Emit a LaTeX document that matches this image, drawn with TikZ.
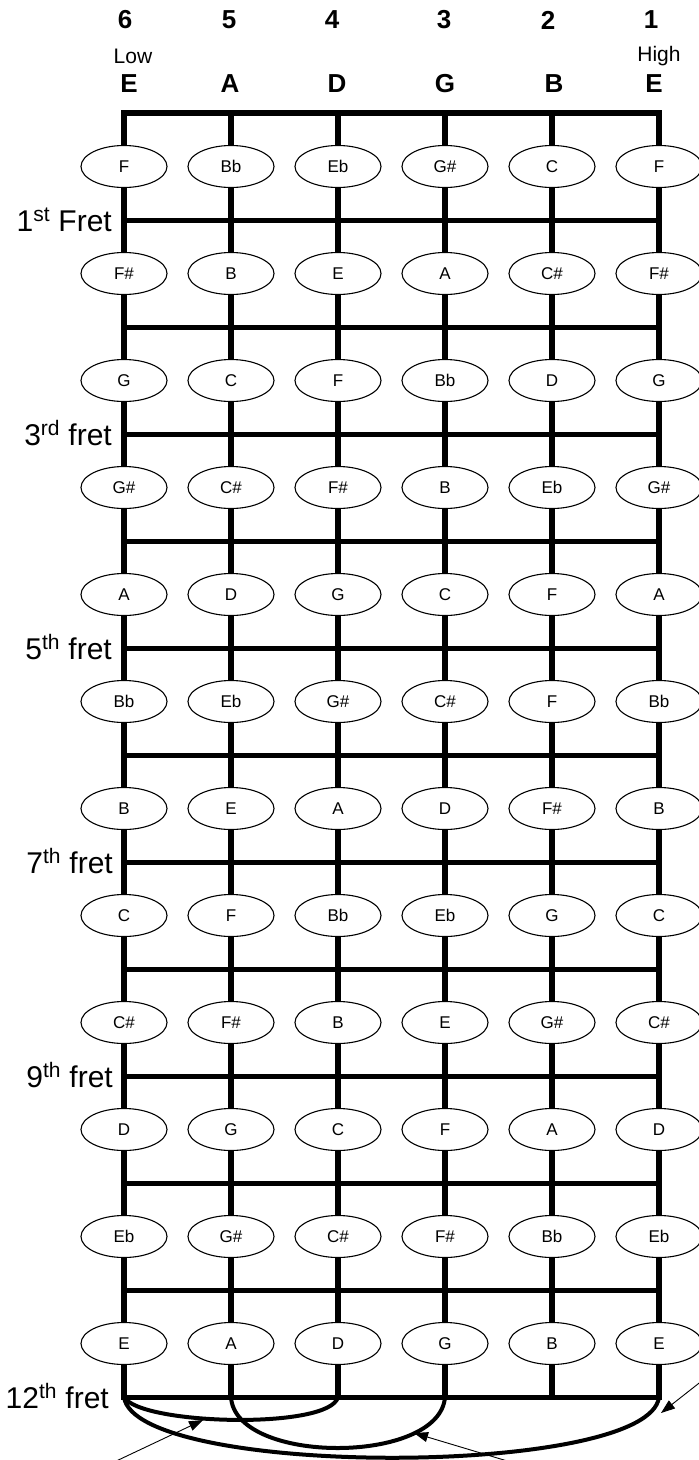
\documentclass[tikz,border=0pt]{standalone}
\usepackage{fontspec}
\setmainfont{Liberation Sans}
\usetikzlibrary{shapes.geometric,arrows.meta}

\tikzset{
  stringline/.style={line width=6pt, line cap=rect},
  fretline/.style={line width=5pt},
  curveline/.style={line width=4pt},
  note/.style={draw, ellipse, fill=white, line width=1.1pt,
    minimum width=86pt, minimum height=42pt, inner sep=0pt,
    font=\fontsize{17}{17}\selectfont},
  head/.style={font=\bfseries\fontsize{26}{26}\selectfont},
  sidelabel/.style={font=\fontsize{21}{21}\selectfont},
  fretlabel/.style={anchor=base east, inner sep=0pt,
    font=\fontsize{30}{30}\selectfont},
  pointer/.style={line width=0.9pt, -{Triangle[length=14pt,width=10pt]}},
}

\begin{document}
\begin{tikzpicture}[x=1pt, y=-1pt]
    \useasboundingbox (0,0) rectangle (699,1460);

    % strings, nut and frets
    \foreach \s [count=\i] in {6,...,1} {
      \coordinate (top\s) at (124+107*\i-107,113);
      \coordinate (bot\s) at (124+107*\i-107,1397);
      \draw[stringline] (top\s) -- (bot\s);
    }
    \draw[stringline] (top6) -- (top1);
    \foreach \k in {1,...,12} {
      \coordinate (fl\k) at (124,113+107*\k);
      \coordinate (fr\k) at (659,113+107*\k);
      \draw[fretline] (fl\k) -- (fr\k);
    }

    % string numbers and names
    \foreach \s/\x/\name/\nx in {6/125/E/129, 5/229/A/230, 4/332/D/337,
                                 3/444/G/445, 2/548/B/554, 1/651/E/654} {
      \node[head] (num\s) at (\x,20) {\s};
      \node[head] (name\s) at (\nx,84) {\name};
    }
    \node[sidelabel] (low) at (133,56) {Low};
    \node[sidelabel] (high) at (659,56) {High};

    % notes on each fret
    \foreach \row [count=\f] in {
        {F,Bb,Eb,G\#,C,F}, {F\#,B,E,A,C\#,F\#}, {G,C,F,Bb,D,G},
        {G\#,C\#,F\#,B,Eb,G\#}, {A,D,G,C,F,A}, {Bb,Eb,G\#,C\#,F,Bb},
        {B,E,A,D,F\#,B}, {C,F,Bb,Eb,G,C}, {C\#,F\#,B,E,G\#,C\#},
        {D,G,C,F,A,D}, {Eb,G\#,C\#,F\#,Bb,Eb}, {E,A,D,G,B,E}} {
      \foreach \n [count=\i] in \row {
        \node[note] (n\f-\i) at (124+107*\i-107,113+107*\f-53.5) {\n};
      }
    }

    % fret markers
    \node[fretlabel] (f1) at (112,231) {1\textsuperscript{st} Fret};
    \node[fretlabel] (f3) at (112,445) {3\textsuperscript{rd} fret};
    \node[fretlabel] (f5) at (112,659) {5\textsuperscript{th} fret};
    \node[fretlabel] (f7) at (113,873) {7\textsuperscript{th} fret};
    \node[fretlabel] (f9) at (113,1087) {9\textsuperscript{th} fret};
    \node[fretlabel] (f12) at (109,1408) {12\textsuperscript{th} fret};

    % octave curves below the 12th fret
    \draw[curveline] (bot6) .. controls (140,1425) and (330,1430) .. (bot4);
    \draw[curveline] (bot5) .. controls (235,1465) and (440,1465) .. (bot3);
    \draw[curveline] (bot6) .. controls (135,1478) and (650,1478) .. (bot1);

    % pointers
    \coordinate (tailA) at (112,1463);
    \coordinate (tipA) at (203,1420);
    \coordinate (tailB) at (514,1463);
    \coordinate (tipB) at (414,1433);
    \coordinate (tailC) at (703,1380);
    \coordinate (tipC) at (661,1413);
    \draw[pointer] (tailA) -- (tipA);
    \draw[pointer] (tailB) -- (tipB);
    \draw[pointer] (tailC) -- (tipC);
\end{tikzpicture}
\end{document}
